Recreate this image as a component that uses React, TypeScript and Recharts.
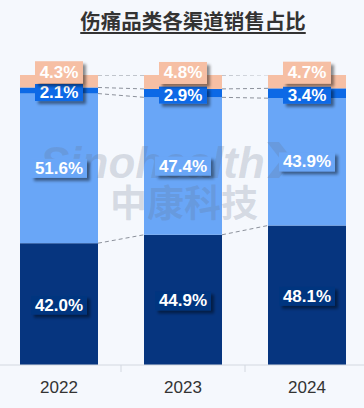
import React from 'react';
import { BarChart, Bar, XAxis, YAxis, LabelList } from 'recharts';

// channel share by year (%), bottom to top
const years = ['2022', '2023', '2024'];
const navyShare = [42.0, 44.9, 48.1];
const lightShare = [51.6, 47.4, 43.9];
const blueShare = [2.1, 2.9, 3.4];
const peachShare = [4.3, 4.8, 4.7];

const CHART_W = 372;
const CHART_H = 408;
const BAND = CHART_W / years.length;
const FONT = '"Liberation Sans", Arial, sans-serif';
const MARK = 'rgb(100,112,135)';

const series = [
  { key: 'navy', values: navyShare, color: '#06357f', dy: 1, boxH: 19 },
  { key: 'light', values: lightShare, color: '#69a6f7', dy: 0, boxH: 19 },
  { key: 'blue', values: blueShare, color: '#0c69e6', dy: 2, boxH: 17 },
  { key: 'peach', values: peachShare, color: '#f6bfa4', dy: -9, boxH: 22 },
];

const data = years.map((year, i) => ({
  year,
  navy: navyShare[i],
  light: lightShare[i],
  blue: blueShare[i],
  peach: peachShare[i],
}));

// cumulative total up to and including series s
const cumAt = (s: number, i: number) => {
  let t = 0;
  for (let k = 0; k <= s; k++) t += series[k].values[i];
  return t;
};

const makeShape = (s: number) => (props: any) => {
  const { x, y, width, height, index } = props;
  const vals = series[s].values;
  const scale = height / vals[index];
  const next = index + 1;
  return (
    <g>
      <rect x={x} y={y} width={width} height={height} fill={series[s].color} />
      {next < years.length && (
        <line
          x1={x + width}
          y1={y}
          x2={x + BAND}
          y2={y + (cumAt(s, index) - cumAt(s, next)) * scale}
          stroke="#8c919b"
          strokeWidth={1}
          strokeDasharray="4 3"
        />
      )}
    </g>
  );
};

// faint brand watermark, sits over the bars but under the light-blue labels
const Watermark = () => (
  <g pointerEvents="none">
    <text x={43} y={178} fontSize={44} fontStyle="italic" fontWeight="bold" fontFamily={FONT}
      fill={MARK} fillOpacity={0.22}>Sinohealth</text>
    <polygon points="270,142 282,142 296,160 282,178 270,178 284,160" fill={MARK} fillOpacity={0.22} />
    <text x={113} y={201} fontSize={37} fontWeight="bold" fontFamily='"Noto Sans CJK SC", sans-serif'
      dominantBaseline="central" fill={MARK} fillOpacity={0.22}>中康科技</text>
  </g>
);

const makeLabel = (s: number) => (props: any) => {
  const vb = props.viewBox && props.viewBox.width != null ? props.viewBox : props;
  const { x, y, width, height } = vb;
  const txt = `${Number(props.value).toFixed(1)}%`;
  const cx = x + width / 2;
  const cy = y + height / 2 + series[s].dy;
  const bw = txt.length === 4 ? 48 : 56;
  const bh = series[s].boxH;
  return (
    <g>
      {s === 0 && props.index === 0 && <Watermark />}
      <defs>
        <filter id="boxShadow" x="-20%" y="-30%" width="150%" height="180%">
          <feDropShadow dx="3" dy="3" stdDeviation="1.5" floodColor="#000" floodOpacity="0.45" />
        </filter>
      </defs>
      <rect x={cx - bw / 2} y={cy - bh / 2} width={bw} height={bh} fill={series[s].color} filter="url(#boxShadow)" />
      <text x={cx} y={cy} textAnchor="middle" dominantBaseline="central" fill="#fff"
        fontSize={17} fontWeight="bold" fontFamily={FONT}>
        {txt}
      </text>
    </g>
  );
};

const YearTick = (props: any) => {
  const { x, y, payload, index } = props;
  return (
    <g>
      <text x={x} y={y + 28} textAnchor="middle" fill="#333" fontSize={17} fontFamily={FONT}>
        {payload.value}
      </text>
      {index < years.length - 1 && (
        <line x1={x + BAND / 2} y1={y} x2={x + BAND / 2} y2={y + 7} stroke="#d3d8e0" />
      )}
    </g>
  );
};

export default function App() {
  return (
    <div style={{ position: 'absolute', left: 0, top: 0, width: 364, height: 408, overflow: 'hidden', background: '#f5f8fd' }}>
      <div style={{ position: 'absolute', left: 0, top: 8, width: 386, textAlign: 'center', lineHeight: '24px' }}>
        <span style={{
          fontFamily: '"Noto Sans CJK SC", sans-serif', fontSize: 20.5, fontWeight: 'bold', color: '#333',
          textDecoration: 'underline', textDecorationThickness: 2, textUnderlineOffset: 3,
        }}>
          伤痛品类各渠道销售占比
        </span>
      </div>
      <div style={{ position: 'absolute', left: -3, top: 0 }}>
        <BarChart width={CHART_W} height={CHART_H} data={data} margin={{ top: 75, right: 0, left: 0, bottom: 0 }} barSize={78}>
          <XAxis dataKey="year" height={43} tickSize={0} tickMargin={0} tickLine={false}
            axisLine={{ stroke: '#d3d8e0' }} tick={<YearTick />} interval={0} />
          <YAxis hide domain={[0, 100]} allowDataOverflow />
          {series.map((sr, s) => (
            <Bar key={sr.key} dataKey={sr.key} stackId="a" fill={sr.color} shape={makeShape(s)} isAnimationActive={false}>
              <LabelList dataKey={sr.key} content={makeLabel(s)} />
            </Bar>
          ))}
        </BarChart>
      </div>
    </div>
  );
}
